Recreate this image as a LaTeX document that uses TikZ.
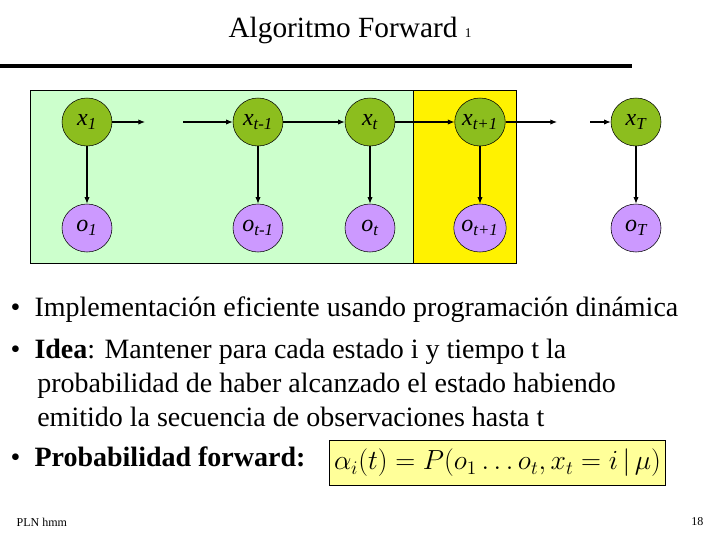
\documentclass[tikz,border=0pt]{standalone}
\usepackage{fontspec}
\setmainfont{Liberation Serif}
\usetikzlibrary{shapes.geometric,arrows.meta}
\definecolor{stg}{RGB}{140,190,30}
\definecolor{obp}{RGB}{204,153,255}
\begin{document}
\begin{tikzpicture}[x=0.75pt,y=-0.75pt,
  st/.style={ellipse,draw,fill=stg,minimum width=37.5pt,minimum height=36pt,inner sep=0pt,font=\fontsize{18}{18}\selectfont\itshape},
  ob/.style={ellipse,draw,fill=obp,minimum width=37.5pt,minimum height=36pt,inner sep=0pt,font=\fontsize{18}{18}\selectfont\itshape},
  ar/.style={-{Latex[length=5pt,width=4pt]},thick},
  bul/.style={anchor=west,font=\fontsize{21}{25.5}\selectfont,align=left}]
\useasboundingbox (0,0) rectangle (720,540);
\fill[white] (0,0) rectangle (720,540);
\draw[fill={rgb,255:red,204;green,255;blue,204}] (30,90) rectangle (413,263);
\draw[fill=yellow] (413,90) rectangle (516,263);
\node (title) at (350,30) {\fontsize{22}{26}\selectfont Algoritmo Forward \fontsize{10}{12}\selectfont 1};
\draw[line width=3pt] (0,66) -- (632,66);
\foreach \n/\x/\s in {1/87/1,a/258/t-1,b/370/t,c/480/t+1,T/636/T}{
  \node[st] (x\n) at (\x,122) {x\textsubscript{\s}};
  \node[ob] (o\n) at (\x,228) {o\textsubscript{\s}};
  \draw[ar] (x\n) -- (o\n);
}
\coordinate (s1) at (145,122); \coordinate (s2) at (183,122);
\coordinate (s3) at (557,122); \coordinate (s4) at (590,122);
\draw[ar] (x1) -- (s1);
\draw[ar] (s2) -- (xa);
\draw[ar] (xa) -- (xb);
\draw[ar] (xb) -- (xc);
\draw[ar] (xc) -- (s3);
\draw[ar] (s4) -- (xT);
\node[bul] (b1) at (6,310) {•\hspace{0.5em}Implementación eficiente usando programación dinámica};
\node[bul,anchor=north west] (b2) at (6,334) {•\hspace{0.5em}\textbf{Idea}: Mantener para cada estado i y tiempo t la\\
\hspace{0.95em}probabilidad de haber alcanzado el estado habiendo\\
\hspace{0.95em}emitido la secuencia de observaciones hasta t};
\node[bul] (b3) at (6,457) {•\hspace{0.5em}\textbf{Probabilidad forward:}};
\node[draw,fill={rgb,255:red,255;green,255;blue,153},minimum width=251pt,minimum height=34pt,font=\fontsize{22}{22}\selectfont] (f) at (497.5,463)
 {$\alpha_i(t)=P(o_1\ldots o_t,x_t=i\,|\,\mu)$};
\node[anchor=west,font=\fontsize{9}{10}\selectfont] (pln) at (12,522) {PLN hmm};
\node[anchor=east,font=\fontsize{9}{10}\selectfont] (pg) at (708,522) {18};
\end{tikzpicture}
\end{document}
